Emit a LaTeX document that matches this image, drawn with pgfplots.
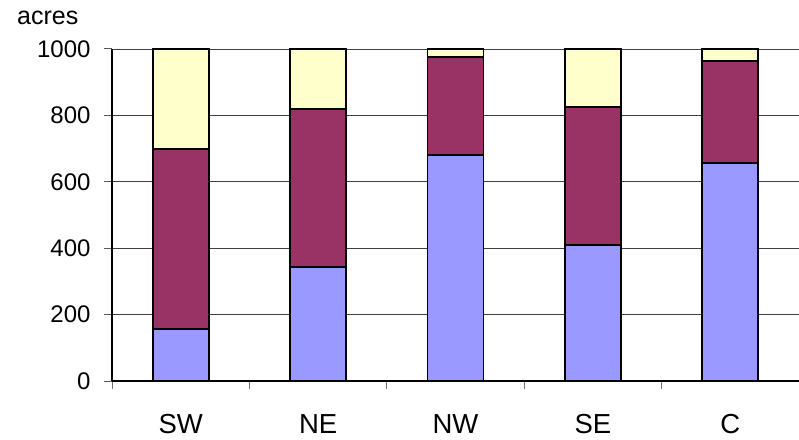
\documentclass[border=0pt]{standalone}
\usepackage{pgfplots}
\pgfplotsset{compat=1.18}
\usepackage{fontspec}
\setmainfont{Liberation Sans}
\definecolor{cblue}{HTML}{9999FF}
\definecolor{cpurple}{HTML}{993366}
\definecolor{cyellow}{HTML}{FFFFCC}
\begin{document}
\begin{tikzpicture}
\path[use as bounding box] (-112pt,-58pt) rectangle (687pt,381pt);
\begin{axis}[
  at={(0pt,0pt)}, anchor=south west,
  scale only axis, width=687pt, height=332pt,
  ybar stacked, bar width=56pt,
  xmin=-0.5, xmax=4.5, ymin=0, ymax=1000,
  clip=false,
  axis x line*=bottom, axis y line*=left,
  axis line style={black, line width=1.6pt},
  ytick={0,200,...,1000},
  ymajorgrids, grid style={black!75, line width=0.9pt},
  xtick={-0.5,0.5,1.5,2.5,3.5,4.5}, xticklabels={},
  major tick length=8pt, tick align=outside,
  x tick style={black!55, line width=1pt},
  y tick style={black!65, line width=1pt},
  extra x ticks={0,1,2,3,4}, extra x tick labels={SW,NE,NW,SE,C},
  extra x tick style={major tick length=0pt, grid=none,
    tick label style={font=\fontsize{27.5}{32}\selectfont, anchor=base, yshift=-52pt}},
  yticklabel style={font=\fontsize{24}{28}\selectfont, xshift=-10pt},
  /pgf/number format/.cd, 1000 sep={}, assume math mode=true,
]
\addplot[fill=cblue, draw=black, line width=1.7pt] coordinates {(0,156) (1,343) (2,680) (3,409) (4,657)};
\addplot[fill=cpurple, draw=black, line width=1.7pt] coordinates {(0,542) (1,477) (2,296) (3,416) (4,307)};
\addplot[fill=cyellow, draw=black, line width=1.7pt] coordinates {(0,302) (1,180) (2,24) (3,175) (4,36)};
\draw[black!25, line width=1pt] (rel axis cs:1,0) -- (rel axis cs:1,1);
\end{axis}
\node[anchor=base west, inner sep=0pt, font=\fontsize{25}{30}\selectfont] at (-95pt,356pt) {acres};
\end{tikzpicture}
\end{document}
